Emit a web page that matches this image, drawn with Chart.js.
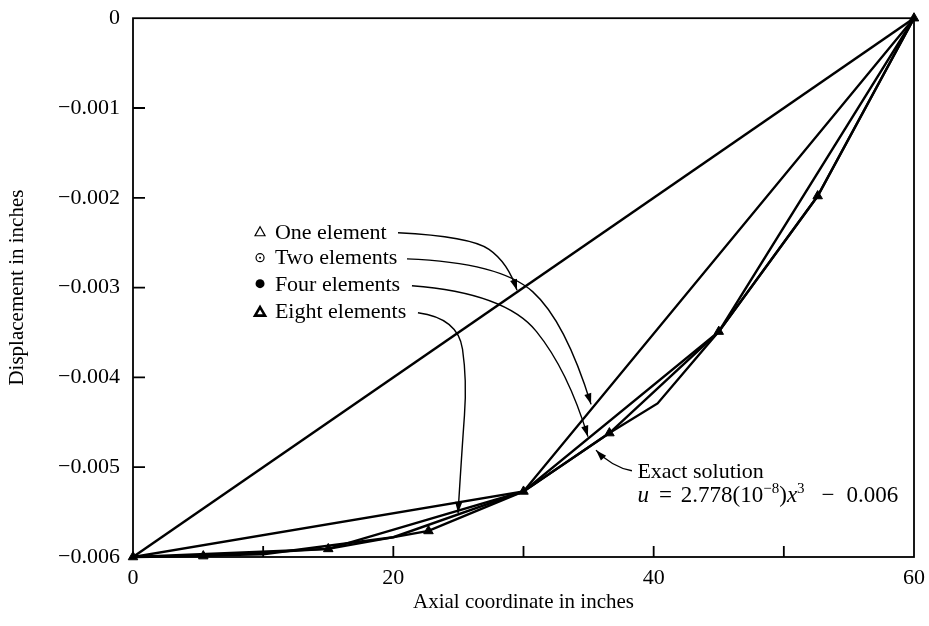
<!DOCTYPE html>
<html>
<head>
<meta charset="utf-8">
<title>Displacement vs axial coordinate</title>
<script src="https://cdn.jsdelivr.net/npm/chart.js@4.4.1/dist/chart.umd.min.js"></script>
<style>
  html, body { margin: 0; padding: 0; background: #fff; }
  #wrap { width: 929px; height: 626px; position: relative; }
</style>
</head>
<body>
<div id="wrap"><canvas id="myChart"></canvas></div>
<script>
// axis ticks
const xTicks = [0, 10, 20, 30, 40, 50, 60];
const xTickLabels = ['0', '', '20', '', '40', '', '60'];
const yTicks = [0, -0.001, -0.002, -0.003, -0.004, -0.005, -0.006];
const yTickLabels = ['0', '\u22120.001', '\u22120.002', '\u22120.003', '\u22120.004', '\u22120.005', '\u22120.006'];

// finite element solutions
const oneX = [0, 60];
const oneU = [-0.006, 0];
const twoX = [0, 30, 60];
const twoU = [-0.006, -0.00527, 0];
const fourX = [0, 15, 30, 45, 60];
const fourU = [-0.006, -0.00591, -0.00527, -0.00349, 0];
const eightX = [0, 5.4, 15, 22.7, 30, 36.6, 45, 52.6, 60];
const eightU = [-0.006, -0.00599, -0.00591, -0.00571, -0.00527, -0.00462, -0.00349, -0.00198, 0];
// exact solution as drawn
const exactX = [0, 10, 20, 30, 36.6, 40.3, 45, 52.6, 60];
const exactU = [-0.006, -0.00597, -0.00578, -0.00527, -0.00462, -0.00429, -0.00349, -0.00198, 0];

// legend entries and leader arrows (data coordinates)
const legendNames = ['One element', 'Two elements', 'Four elements', 'Eight elements'];
const legendBaseU = [-0.002456, -0.002733, -0.003033, -0.003333];
const legendSymU = [-0.002378, -0.002667, -0.002956, -0.003267];
const leaders = [
  [[20.36, -0.00239], [25.9, -0.00243], [28.8, -0.00272], [29.5, -0.00303]],
  [[21.05, -0.00268], [28.2, -0.00272], [33.2, -0.00337], [35.19, -0.00430]],
  [[21.43, -0.00298], [28.6, -0.00306], [33.4, -0.00392], [34.95, -0.00466]],
  [[21.89, -0.00328], [24.97, -0.00334], [25.66, -0.00403], [25.27, -0.00481], [24.97, -0.00551]],
  [[38.33, -0.00504], [36.8, -0.00500], [35.57, -0.00481]]
];

const SERIF = '"Liberation Serif", "Times New Roman", serif';
Chart.defaults.font.family = SERIF;
Chart.defaults.color = '#000';

const toPoints = (xs, us) => xs.map((x, i) => ({ x: x, y: us[i] }));

const lineSet = (label, xs, us) => ({
  label: label,
  data: toPoints(xs, us),
  borderColor: '#000',
  backgroundColor: '#000',
  borderWidth: 2.4,
  pointRadius: 0,
  tension: 0,
  fill: false,
});

// frame, inward ticks, legend text and arrows
const decorations = {
  id: 'decorations',
  afterDatasetsDraw(chart) {
    const { ctx, chartArea: a, scales } = chart;
    const xs = scales.x, ys = scales.y;
    const P = (x, u) => [xs.getPixelForValue(x), ys.getPixelForValue(u)];
    ctx.save();
    ctx.strokeStyle = '#000';
    ctx.fillStyle = '#000';

    // frame
    ctx.lineWidth = 1.8;
    ctx.strokeRect(a.left, a.top, a.right - a.left, a.bottom - a.top);

    // inward tick marks
    ctx.beginPath();
    xTicks.forEach(v => {
      if (v > xTicks[0] && v < xTicks[xTicks.length - 1]) {
        const px = xs.getPixelForValue(v);
        ctx.moveTo(px, a.bottom);
        ctx.lineTo(px, a.bottom - 11);
      }
    });
    yTicks.forEach(v => {
      if (v < 0 && v > -0.006) {
        const py = ys.getPixelForValue(v);
        ctx.moveTo(a.left, py);
        ctx.lineTo(a.left + 12, py);
      }
    });
    ctx.stroke();

    // legend block
    ctx.font = '22px ' + SERIF;
    ctx.textBaseline = 'alphabetic';
    ctx.textAlign = 'left';
    legendNames.forEach((name, i) => {
      const [tx, ty] = P(10.9, legendBaseU[i]);
      ctx.fillText(name, tx, ty);
      const [sx, sy] = P(9.76, legendSymU[i]);
      ctx.lineWidth = 1.2;
      if (i === 0) {
        ctx.beginPath();
        ctx.moveTo(sx, sy - 5); ctx.lineTo(sx + 5, sy + 4); ctx.lineTo(sx - 5, sy + 4); ctx.closePath();
        ctx.stroke();
      } else if (i === 1) {
        ctx.beginPath(); ctx.arc(sx, sy, 4, 0, Math.PI * 2); ctx.stroke();
        ctx.beginPath(); ctx.arc(sx, sy, 1, 0, Math.PI * 2); ctx.fill();
      } else if (i === 2) {
        ctx.beginPath(); ctx.arc(sx, sy, 4.5, 0, Math.PI * 2); ctx.fill();
      } else {
        ctx.lineWidth = 2.6;
        ctx.beginPath();
        ctx.moveTo(sx, sy - 4.5); ctx.lineTo(sx + 5, sy + 4); ctx.lineTo(sx - 5, sy + 4); ctx.closePath();
        ctx.stroke();
      }
    });

    // leader arrows
    ctx.lineWidth = 1.4;
    leaders.forEach(raw => {
      const pts = raw.map(p => P(p[0], p[1]));
      const n = pts.length;
      ctx.beginPath();
      ctx.moveTo(pts[0][0], pts[0][1]);
      for (let i = 1; i < n - 2; i++) {
        const mx = (pts[i][0] + pts[i + 1][0]) / 2;
        const my = (pts[i][1] + pts[i + 1][1]) / 2;
        ctx.quadraticCurveTo(pts[i][0], pts[i][1], mx, my);
      }
      ctx.quadraticCurveTo(pts[n - 2][0], pts[n - 2][1], pts[n - 1][0], pts[n - 1][1]);
      ctx.stroke();
      const [ex, ey] = pts[n - 1];
      const ang = Math.atan2(ey - pts[n - 2][1], ex - pts[n - 2][0]);
      ctx.save();
      ctx.translate(ex, ey);
      ctx.rotate(ang);
      ctx.beginPath();
      ctx.moveTo(0, 0); ctx.lineTo(-11, -3.6); ctx.lineTo(-11, 3.6); ctx.closePath();
      ctx.fill();
      ctx.restore();
    });

    // exact solution label
    const [lx, ly1] = P(38.75, -0.005122);
    const ly2 = ys.getPixelForValue(-0.00539);
    ctx.font = '22px ' + SERIF;
    ctx.fillText('Exact solution', lx, ly1);
    const runs = [
      { t: 'u', it: true }, { gap: 10 }, { t: '=' }, { gap: 9 }, { t: '2.778(10' },
      { t: '\u22128', sup: true }, { t: ')' }, { t: 'x', it: true }, { t: '3', sup: true },
      { gap: 17 }, { t: '\u2212' }, { gap: 12 }, { t: '0.006' }
    ];
    let cx = lx;
    runs.forEach(r => {
      if (r.gap) { cx += r.gap; return; }
      ctx.font = (r.it ? 'italic ' : '') + (r.sup ? '15px ' : '23px ') + SERIF;
      ctx.fillText(r.t, cx, r.sup ? ly2 - 9 : ly2);
      cx += ctx.measureText(r.t).width;
    });

    ctx.restore();
  }
};

const ctx = document.getElementById('myChart').getContext('2d');
new Chart(ctx, {
  type: 'line',
  data: {
    datasets: [
      lineSet('One element', oneX, oneU),
      lineSet('Two elements', twoX, twoU),
      lineSet('Four elements', fourX, fourU),
      Object.assign(lineSet('Eight elements', eightX, eightU), {
        pointStyle: 'triangle',
        pointRadius: 5.5,
        pointBorderWidth: 1,
        clip: false,
      }),
      lineSet('Exact solution', exactX, exactU),
    ],
  },
  options: {
    responsive: true,
    maintainAspectRatio: false,
    animation: false,
    layout: { padding: { top: 9, right: 15, bottom: 0, left: 0 } },
    plugins: {
      legend: { display: false },
      tooltip: { enabled: false },
    },
    scales: {
      x: {
        type: 'linear',
        min: 0,
        max: 60,
        grid: { display: false },
        border: { display: false },
        afterBuildTicks: scale => { scale.ticks = xTicks.map(v => ({ value: v })); },
        afterFit: scale => { scale.height = 69; },
        ticks: {
          autoSkip: false,
          maxRotation: 0,
          padding: 0,
          font: { size: 22 },
          color: '#000',
          callback: value => xTickLabels[xTicks.indexOf(value)] ?? '',
        },
        title: {
          display: true,
          text: 'Axial coordinate in inches',
          font: { size: 21 },
          color: '#000',
          padding: { top: 0, bottom: 11 },
        },
      },
      y: {
        type: 'linear',
        min: -0.006,
        max: 0,
        grid: { display: false },
        border: { display: false },
        afterBuildTicks: scale => { scale.ticks = yTicks.map(v => ({ value: v })); },
        afterFit: scale => { scale.width = 133; },
        ticks: {
          padding: 5,
          font: { size: 22 },
          color: '#000',
          callback: value => {
            const i = yTicks.findIndex(v => Math.abs(v - value) < 1e-9);
            return i >= 0 ? yTickLabels[i] : '';
          },
        },
        title: {
          display: true,
          text: 'Displacement in inches',
          font: { size: 21 },
          color: '#000',
          padding: { top: 5, bottom: 0 },
        },
      },
    },
  },
  plugins: [decorations],
});
</script>
</body>
</html>
